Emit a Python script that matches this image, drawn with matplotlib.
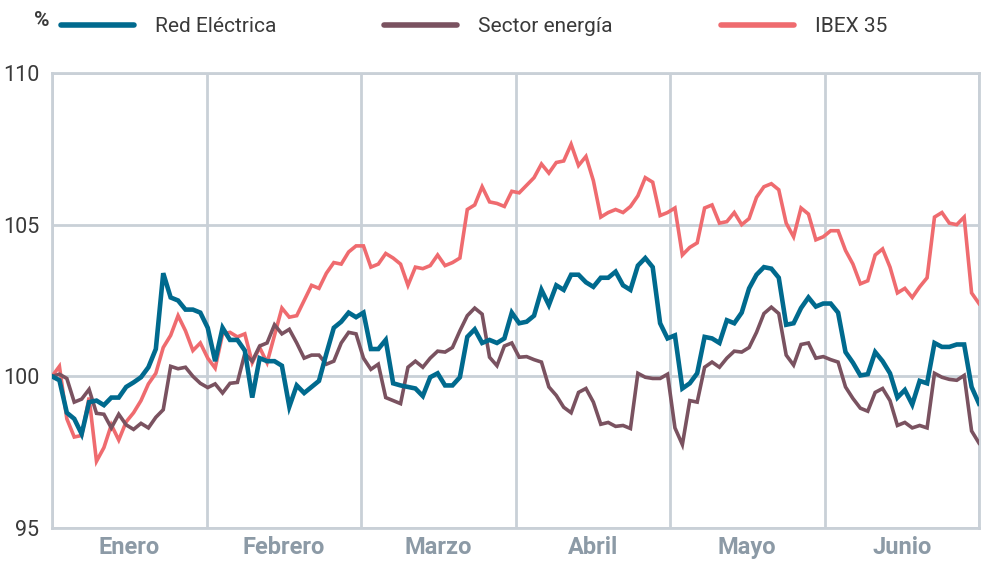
import matplotlib
matplotlib.use("Agg")
import matplotlib.pyplot as plt
import numpy as np

months = ["Enero", "Febrero", "Marzo", "Abril", "Mayo", "Junio"]
y_ticks = [95, 100, 105, 110]

red_electrica = [
    100.0, 99.87, 98.8, 98.6, 98.1, 99.15, 99.2, 99.05, 99.3, 99.3,
    99.65, 99.8, 99.97, 100.3, 100.9, 103.4, 102.6, 102.5, 102.2, 102.2,
    102.1, 101.6, 100.5, 101.6, 101.2, 101.2, 100.85, 99.3, 100.6, 100.5,
    100.5, 100.35, 99.0, 99.7, 99.45, 99.65, 99.85, 100.75, 101.6, 101.8,
    102.1, 101.95, 102.1, 100.9, 100.9, 101.2, 99.77, 99.7, 99.65, 99.6,
    99.35, 99.97, 100.1, 99.7, 99.7, 99.97, 101.3, 101.55, 101.1, 101.2,
    101.1, 101.25, 102.1, 101.75, 101.8, 102.0, 102.85, 102.35, 103.0, 102.85,
    103.35, 103.35, 103.1, 102.95, 103.25, 103.25, 103.45, 103.0, 102.85, 103.65,
    103.9, 103.6, 101.75, 101.25, 101.35, 99.6, 99.77, 100.1, 101.3, 101.25,
    101.1, 101.85, 101.75, 102.1, 102.9, 103.35, 103.6, 103.55, 103.25, 101.7,
    101.75, 102.25, 102.6, 102.3, 102.4, 102.4, 102.1, 100.8, 100.45, 100.03,
    100.07, 100.8, 100.5, 100.1, 99.3, 99.55, 99.07, 99.85, 99.77, 101.1,
    100.97, 100.97, 101.05, 101.05, 99.65, 99.1,
]

sector_energia = [
    100.0, 100.07, 99.93, 99.15, 99.25, 99.57, 98.78, 98.75, 98.3, 98.75,
    98.4, 98.25, 98.45, 98.3, 98.65, 98.9, 100.33, 100.25, 100.3, 100.0,
    99.77, 99.63, 99.75, 99.45, 99.77, 99.8, 100.75, 100.5, 101.0, 101.1,
    101.7, 101.4, 101.55, 101.1, 100.6, 100.7, 100.7, 100.4, 100.5, 101.1,
    101.45, 101.4, 100.6, 100.23, 100.4, 99.3, 99.2, 99.1, 100.3, 100.5,
    100.3, 100.6, 100.83, 100.8, 100.95, 101.5, 102.0, 102.25, 102.05, 100.63,
    100.35, 101.0, 101.1, 100.63, 100.65, 100.55, 100.47, 99.65, 99.37, 98.98,
    98.8, 99.47, 99.6, 99.15, 98.42, 98.48, 98.35, 98.38, 98.28, 100.1,
    99.97, 99.93, 99.93, 100.07, 98.3, 97.75, 99.2, 99.15, 100.3, 100.47,
    100.3, 100.6, 100.83, 100.8, 100.95, 101.45, 102.07, 102.28, 102.07, 100.7,
    100.37, 101.05, 101.1, 100.6, 100.65, 100.55, 100.47, 99.65, 99.27, 98.95,
    98.85, 99.47, 99.6, 99.2, 98.38, 98.48, 98.3, 98.38, 98.3, 100.1,
    99.97, 99.9, 99.87, 100.03, 98.2, 97.8,
]

ibex35 = [
    100.0, 100.33, 98.6, 98.0, 98.05, 99.3, 97.2, 97.65, 98.4, 97.9,
    98.5, 98.8, 99.2, 99.75, 100.1, 100.95, 101.35, 102.0, 101.5, 100.85,
    101.1, 100.6, 100.27, 101.4, 101.45, 101.3, 101.4, 100.45, 100.95, 100.45,
    101.35, 102.25, 101.95, 102.0, 102.5, 103.0, 102.9, 103.4, 103.75, 103.7,
    104.1, 104.3, 104.3, 103.6, 103.7, 104.05, 103.9, 103.7, 103.0, 103.6,
    103.55, 103.65, 104.0, 103.65, 103.75, 103.9, 105.5, 105.65, 106.25, 105.75,
    105.7, 105.6, 106.1, 106.05, 106.3, 106.55, 107.0, 106.7, 107.05, 107.1,
    107.65, 106.95, 107.25, 106.45, 105.25, 105.4, 105.5, 105.4, 105.6, 105.95,
    106.55, 106.4, 105.3, 105.4, 105.55, 104.0, 104.25, 104.4, 105.55, 105.65,
    105.05, 105.1, 105.4, 105.0, 105.2, 105.9, 106.25, 106.35, 106.15, 105.05,
    104.6, 105.55, 105.35, 104.5, 104.6, 104.8, 104.8, 104.15, 103.7, 103.05,
    103.15, 104.0, 104.2, 103.6, 102.75, 102.9, 102.6, 102.95, 103.25, 105.25,
    105.4, 105.05, 105.0, 105.25, 102.75, 102.4,
]

BLUE = "#006a8e"
MAUVE = "#7a5260"
RED = "#ef6b6f"
GRID = "#c9d0d7"
TEXT = "#3a3a3a"
MONTH = "#8c9aa6"

plt.rcParams["font.family"] = ["Roboto", "DejaVu Sans"]

fig = plt.figure(figsize=(9.86, 5.62), dpi=100)
ax = fig.add_axes([52 / 986, 34 / 562, 927 / 986, 455 / 562])

x_re = np.linspace(0, len(months), len(red_electrica))
x_se = np.linspace(0, len(months), len(sector_energia))
x_ib = np.linspace(0, len(months), len(ibex35))

l_ib, = ax.plot(x_ib, ibex35, color=RED, lw=2.6, solid_joinstyle="miter", zorder=3)
l_se, = ax.plot(x_se, sector_energia, color=MAUVE, lw=2.6, solid_joinstyle="miter", zorder=4)
l_re, = ax.plot(x_re, red_electrica, color=BLUE, lw=3.3, solid_joinstyle="miter", zorder=5)

ax.set_xlim(0, len(months))
ax.set_ylim(y_ticks[0], y_ticks[-1])
ax.set_yticks(y_ticks)
ax.set_yticklabels([str(v) for v in y_ticks], fontsize=15.5, color=TEXT)
ax.set_xticks(np.arange(len(months)) + 0.5)
ax.set_xticklabels(months, fontsize=17, fontweight="bold", color=MONTH)
ax.set_xticks(np.arange(len(months) + 1), minor=True)
ax.tick_params(axis="both", which="both", length=0)
ax.tick_params(axis="x", pad=6)
ax.tick_params(axis="y", pad=9)
ax.grid(False)
ax.grid(True, which="minor", axis="x", color=GRID, lw=2)
ax.grid(True, which="major", axis="y", color=GRID, lw=2)
ax.set_axisbelow(True)
for s in ax.spines.values():
    s.set_color(GRID)
    s.set_linewidth(2)
    s.set_zorder(1)

fig.text(34 / 986, 1 - 20 / 562, "%", fontsize=15, fontweight="bold", color=TEXT,
         ha="left", va="center")

leg = fig.legend([l_re, l_se, l_ib], ["Red Eléctrica", "Sector energía", "IBEX 35"],
                 loc="center left", bbox_to_anchor=(61 / 986, 1 - 27 / 562), ncol=3,
                 frameon=False, fontsize=15, handlelength=3.5, handletextpad=1.0,
                 columnspacing=5.2, borderaxespad=0, borderpad=0)
for t in leg.get_texts():
    t.set_color(TEXT)
for h in leg.legend_handles:
    h.set_linewidth(4)
    h.set_solid_capstyle("round")

fig.savefig("out.png", dpi=100)
